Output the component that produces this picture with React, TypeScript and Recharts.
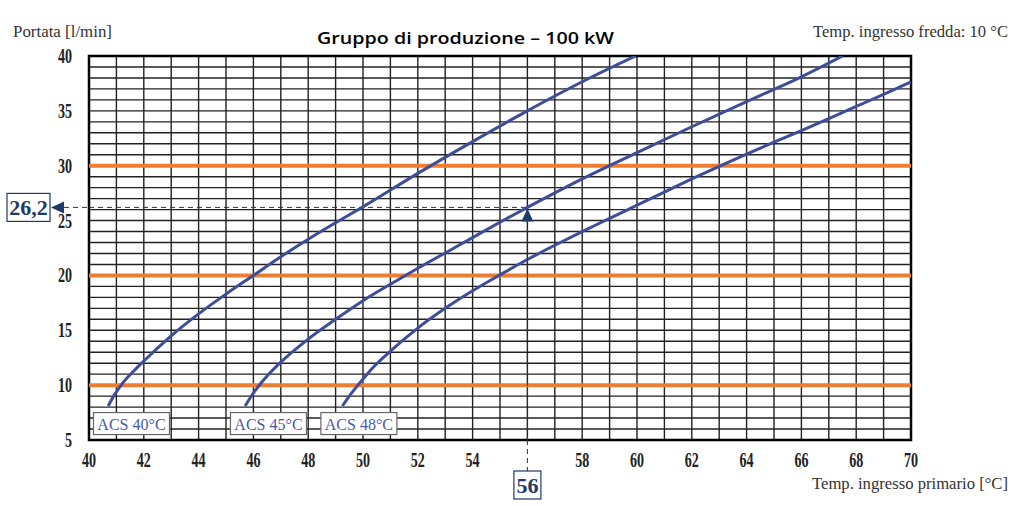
import { LineChart, Line, XAxis, YAxis, CartesianGrid, ReferenceLine, ReferenceArea, ReferenceDot } from 'recharts'

// curves: x = primary inlet temp [°C], y = flow [l/min]
const acs40 = [
  { x: 40.7, y: 8.1 }, { x: 40.9, y: 9.0 }, { x: 41.2, y: 10.1 }, { x: 41.6, y: 11.2 }, { x: 42, y: 12.2 },
  { x: 43, y: 14.5 }, { x: 44, y: 16.5 }, { x: 45, y: 18.3 }, { x: 46, y: 20 }, { x: 47, y: 21.7 },
  { x: 48, y: 23.3 }, { x: 49, y: 24.8 }, { x: 50, y: 26.25 }, { x: 52, y: 29.3 }, { x: 54, y: 32.2 },
  { x: 56, y: 35 }, { x: 58, y: 37.65 }, { x: 59.95, y: 40 },
]
const acs45 = [
  { x: 45.7, y: 8.1 }, { x: 45.95, y: 9.1 }, { x: 46.25, y: 10.1 }, { x: 46.6, y: 11.1 }, { x: 47, y: 12.1 },
  { x: 48, y: 14.2 }, { x: 49, y: 16 }, { x: 50, y: 17.7 }, { x: 51, y: 19.2 }, { x: 52, y: 20.65 },
  { x: 53, y: 22.05 }, { x: 54, y: 23.45 }, { x: 55, y: 24.85 }, { x: 56, y: 26.2 }, { x: 58, y: 28.8 },
  { x: 60, y: 31.2 }, { x: 62, y: 33.55 }, { x: 64, y: 35.85 }, { x: 66, y: 38.1 }, { x: 67.5, y: 40 },
]
const acs48 = [
  { x: 49.25, y: 8.1 }, { x: 49.5, y: 9.0 }, { x: 49.85, y: 10.1 }, { x: 50.4, y: 11.7 }, { x: 51, y: 13.1 },
  { x: 52, y: 15.2 }, { x: 53, y: 17 }, { x: 54, y: 18.6 }, { x: 55, y: 20.05 }, { x: 56, y: 21.45 },
  { x: 57, y: 22.75 }, { x: 58, y: 24 }, { x: 59, y: 25.2 }, { x: 60, y: 26.4 }, { x: 61, y: 27.6 },
  { x: 62, y: 28.8 }, { x: 63, y: 29.95 }, { x: 64, y: 31.05 }, { x: 65, y: 32.15 }, { x: 66, y: 33.2 },
  { x: 67, y: 34.3 }, { x: 68, y: 35.4 }, { x: 69, y: 36.5 }, { x: 70, y: 37.65 },
]
const curveLabels = [
  { text: 'ACS 40°C', x: 41.55, y: 6.5 },
  { text: 'ACS 45°C', x: 46.55, y: 6.5 },
  { text: 'ACS 48°C', x: 49.85, y: 6.5 },
]
const orangeLevels = [10, 20, 30]
const reading = { x: 56, y: 26.2, xText: '56', yText: '26,2' }

const xGrid = Array.from({ length: 31 }, (_, i) => 40 + i)
const yGrid = Array.from({ length: 36 }, (_, i) => 5 + i)
const xLabels = [40, 42, 44, 46, 48, 50, 52, 54, 58, 60, 62, 64, 66, 68, 70]
const yLabels = [5, 10, 15, 20, 25, 30, 35, 40]

const SERIF = '"Liberation Serif", "Times New Roman", serif'
const CURVE = '#3f4c99'
const NAVY = '#1f3a68'

const XTick = (p: any) => {
  if (!xLabels.includes(p.payload.value)) return null
  return (
    <text transform={`translate(${p.x},${p.y + 27}) scale(0.67,1)`} textAnchor="middle"
      fontFamily={SERIF} fontWeight="bold" fontSize={21} fill="#222">{p.payload.value}</text>
  )
}
const YTick = (p: any) => {
  if (!yLabels.includes(p.payload.value)) return null
  return (
    <text transform={`translate(${p.x - 17},${p.y + 7}) scale(0.67,1)`} textAnchor="end"
      fontFamily={SERIF} fontWeight="bold" fontSize={21} fill="#222">{p.payload.value}</text>
  )
}

const AcsBox = (text: string) => (p: any) => (
  <g>
    <rect x={p.cx - 38} y={p.cy - 11} width={76} height={22} fill="#fff" stroke="#666" strokeWidth={1.2} />
    <text x={p.cx} y={p.cy + 6} textAnchor="middle" fontFamily={SERIF} fontSize={16} fill="#4a58a4">{text}</text>
  </g>
)

// left part of the reading: dashed line out of the plot, arrow, value box
const ReadingY = (p: any) => {
  const { x, y } = p.viewBox
  return (
    <g>
      <line x1={x - 25} y1={y} x2={x} y2={y} stroke="#333" strokeDasharray="5 4" strokeWidth={1} />
      <path d={`M${x - 38},${y} L${x - 25},${y - 6} L${x - 25},${y + 6} Z`} fill={NAVY} />
      <rect x={x - 82} y={y - 14} width={43} height={28} fill="#fff" stroke={NAVY} strokeWidth={1.2} />
      <text x={x - 60.5} y={y + 8} textAnchor="middle" fontFamily={SERIF} fontWeight="bold" fontSize={22} fill={NAVY}>{reading.yText}</text>
    </g>
  )
}
const ReadingX = (p: any) => {
  const { x, y, height } = p.viewBox
  const b = y + height
  return (
    <g>
      <path d={`M${x},${y + 1} L${x + 6},${y + 14} L${x - 6},${y + 14} Z`} fill={NAVY} />
      <line x1={x} y1={b} x2={x} y2={b + 31} stroke="#333" strokeDasharray="5 4" strokeWidth={1} />
      <rect x={x - 13.5} y={b + 31} width={27} height={28} fill="#fff" stroke={NAVY} strokeWidth={1.2} />
      <text x={x} y={b + 53} textAnchor="middle" fontFamily={SERIF} fontWeight="bold" fontSize={22} fill={NAVY}>{reading.xText}</text>
    </g>
  )
}

export default function App() {
  return (
    <div style={{ position: 'absolute', left: 0, top: 0, width: 1024, height: 506, background: '#fff' }}>
      <LineChart width={1024} height={506} margin={{ top: 56, right: 113, bottom: 36, left: 49 }}>
        <CartesianGrid stroke="#222" strokeWidth={1.4} />
        <XAxis dataKey="x" type="number" domain={[40, 70]} ticks={xGrid} interval={0} axisLine={false}
          tickLine={false} tickSize={0} tickMargin={0} height={30} tick={<XTick />} allowDataOverflow />
        <YAxis type="number" domain={[5, 40]} ticks={yGrid} interval={0} axisLine={false}
          tickLine={false} tickSize={0} tickMargin={0} width={40} tick={<YTick />} allowDataOverflow />
        {orangeLevels.map((v) => (
          <ReferenceLine key={v} y={v} stroke="#ed7d31" strokeWidth={4} />
        ))}
        <ReferenceArea x1={40} x2={70} y1={5} y2={40} fill="none" stroke="#000" strokeWidth={2.5} />
        <ReferenceLine segment={[{ x: 40, y: reading.y }, { x: reading.x, y: reading.y }]}
          stroke="#333" strokeDasharray="5 4" strokeWidth={1} label={ReadingY} />
        <Line data={acs40} dataKey="y" type="monotone" stroke={CURVE} strokeWidth={3} dot={false} isAnimationActive={false} />
        <Line data={acs45} dataKey="y" type="monotone" stroke={CURVE} strokeWidth={3} dot={false} isAnimationActive={false} />
        <Line data={acs48} dataKey="y" type="monotone" stroke={CURVE} strokeWidth={3} dot={false} isAnimationActive={false} />
        <ReferenceLine segment={[{ x: reading.x, y: 5 }, { x: reading.x, y: reading.y }]}
          stroke="#333" strokeDasharray="5 4" strokeWidth={1} label={ReadingX} />
        {curveLabels.map((l) => (
          <ReferenceDot key={l.text} x={l.x} y={l.y} r={0} shape={AcsBox(l.text)} />
        ))}
      </LineChart>
      <svg width={1024} height={506} style={{ position: 'absolute', left: 0, top: 0, pointerEvents: 'none' }}>
        <text x={13} y={37} fontFamily={SERIF} fontSize={16} fill="#333" textLength={99} lengthAdjust="spacingAndGlyphs">Portata [l/min]</text>
        <text x={317} y={44} fontFamily='"Open Sans", "Liberation Sans", sans-serif' fontWeight="600" fontSize={17} fill="#000"
          textLength={297} lengthAdjust="spacingAndGlyphs">Gruppo di produzione – 100 kW</text>
        <text x={813} y={37} fontFamily={SERIF} fontSize={16} fill="#333" textLength={195} lengthAdjust="spacingAndGlyphs">Temp. ingresso fredda: 10 °C</text>
        <text x={812} y={489} fontFamily={SERIF} fontSize={16} fill="#333" textLength={196} lengthAdjust="spacingAndGlyphs">Temp. ingresso primario [°C]</text>
      </svg>
    </div>
  )
}
